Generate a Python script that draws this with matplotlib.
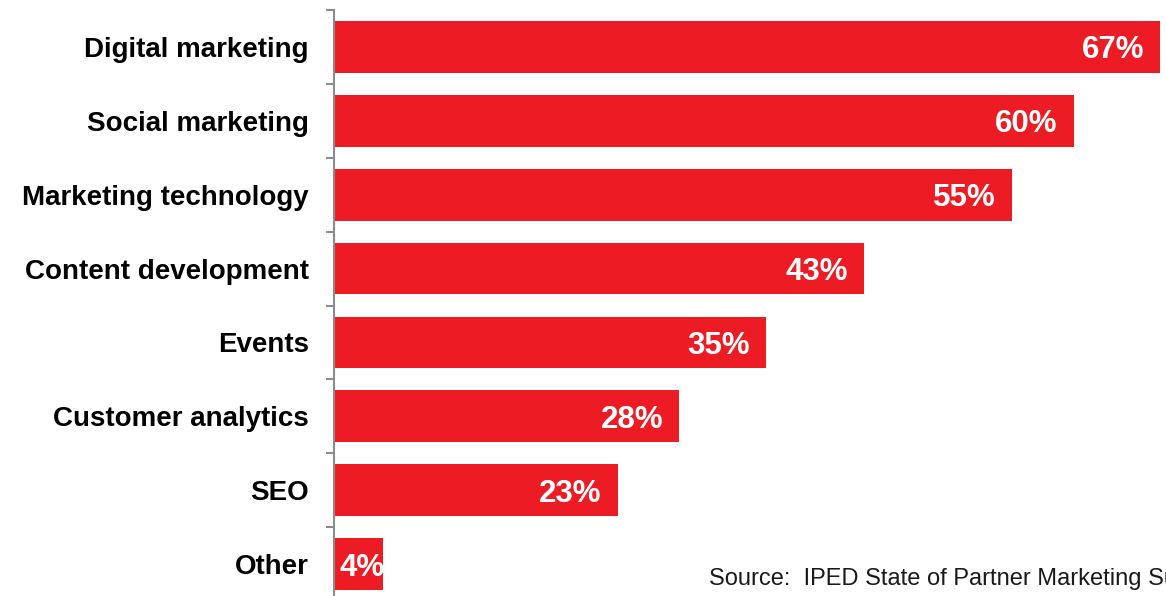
import matplotlib
matplotlib.use("Agg")
import matplotlib.pyplot as plt
import numpy as np

categories = ["Digital marketing", "Social marketing", "Marketing technology",
              "Content development", "Events", "Customer analytics", "SEO", "Other"]
values = [67, 60, 55, 43, 35, 28, 23, 4]
value_labels = ["67%", "60%", "55%", "43%", "35%", "28%", "23%", "4%"]
source_text = "Source:  IPED State of Partner Marketing Survey"

plt.rcParams['font.family'] = ['Liberation Sans', 'DejaVu Sans']

W, H = 1166, 596
PX = 12.33  # pixels per percent
fig = plt.figure(figsize=(W / 100, H / 100), dpi=100)
ax = fig.add_axes([334 / W, -5 / H, 832 / W, 591 / H])

red = "#ED1C24"
y = np.arange(len(categories))
ax.barh(y, values, height=0.70, color=red, edgecolor="none", zorder=2)

ax.set_ylim(len(categories) - 0.5, -0.5)
ax.set_xlim(0, 832 / PX)

for yi, v, lab in zip(y, values, value_labels):
    if v >= 10:
        ax.text(v - 16 / PX, yi + 0.155, lab, ha="right", va="baseline", color="white",
                fontsize=22.5, fontweight="bold", zorder=3)
    else:
        ax.text(6 / PX, yi + 0.155, lab, ha="left", va="baseline", color="white",
                fontsize=22.5, fontweight="bold", zorder=3)

ax.set_yticks(y)
ax.set_yticklabels(categories, fontsize=20, fontweight="bold")
ax.tick_params(axis="y", which="major", length=0, pad=18)
ax.set_yticks(np.arange(-0.5, len(categories), 1.0), minor=True)
ax.tick_params(axis="y", which="minor", length=6, width=1.5, color="#8c8c8c")
ax.set_xticks([])

for s in ["top", "right", "bottom"]:
    ax.spines[s].set_visible(False)
ax.spines["left"].set_color("#8c8c8c")
ax.spines["left"].set_linewidth(1.5)
ax.spines["left"].set_zorder(4)

fig.text(709 / W, 1 - 585 / H, source_text, fontsize=17, color="#1a1a1a",
         ha="left", va="baseline")

fig.savefig("out.png", dpi=100)
